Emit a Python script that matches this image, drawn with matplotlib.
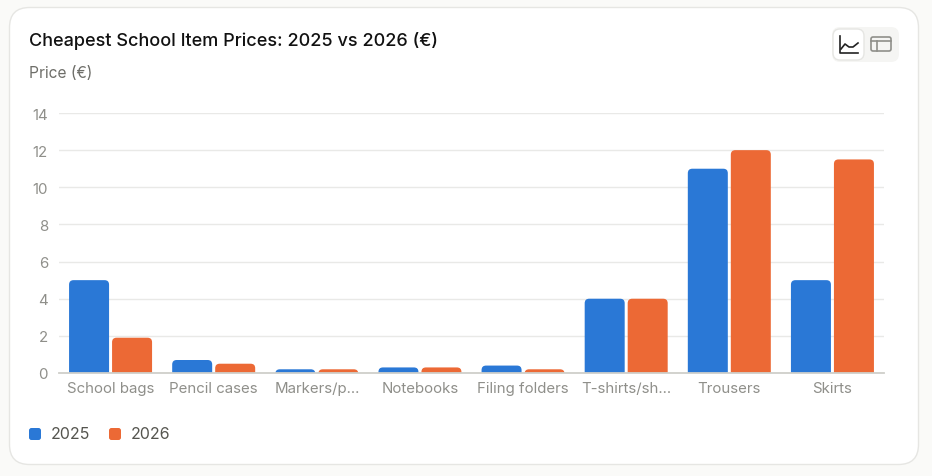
import matplotlib.pyplot as plt
from matplotlib.patches import FancyBboxPatch
import numpy as np

plt.rcParams['font.family'] = ['Inter', 'DejaVu Sans']

categories = ['School bags', 'Pencil cases', 'Markers/p...', 'Notebooks', 'Filing folders',
              'T-shirts/sh...', 'Trousers', 'Skirts']
prices_2025 = [5, 0.7, 0.2, 0.3, 0.4, 4, 11, 5]
prices_2026 = [1.9, 0.5, 0.2, 0.3, 0.2, 4, 12, 11.5]
y_ticks = [0, 2, 4, 6, 8, 10, 12, 14]
series_names = ['2025', '2026']

BLUE = '#2a78d6'
ORANGE = '#ec6935'
W, H = 932, 477

fig = plt.figure(figsize=(W / 100, H / 100), dpi=100, facecolor='#fafaf8')

# overlay in pixel coords for card, title, legend, icons
bg = fig.add_axes([0, 0, 1, 1], zorder=0)
bg.set_xlim(0, W)
bg.set_ylim(H - 1, -1)
bg.axis('off')


def rounded(ax, x0, y0, x1, y1, r, **kw):
    p = FancyBboxPatch((x0, y0), x1 - x0, y1 - y0, boxstyle=f'round,pad=0,rounding_size={r}', **kw)
    ax.add_patch(p)
    return p


rounded(bg, 9.5, 7.5, 918.5, 464.5, 20, fc='white', ec='#e6e6e3', lw=1)
bg.text(29, 40, 'Cheapest School Item Prices: 2025 vs 2026 (€)', fontsize=13.0, fontweight='medium',
        color='#111111', va='center', ha='left')
bg.text(29, 73, 'Price (€)', fontsize=11.2, color='#6e6e69', va='center', ha='left')

# toggle buttons
rounded(bg, 832, 27, 899, 62, 8, fc='#f5f5f3', ec='none')
rounded(bg, 833, 29, 864, 60, 7, fc='white', ec='#e6e6e3', lw=1)
bg.plot([840, 840, 858], [36, 53, 53], color='#222222', lw=1.2)
bg.plot([841, 845, 849, 853, 858], [49, 44, 47, 47, 43], color='#222222', lw=1.2)
rounded(bg, 871, 37, 891, 51, 2, fc='none', ec='#8f8f8a', lw=1.2)
bg.plot([871, 891], [41.5, 41.5], color='#8f8f8a', lw=1.2)
bg.plot([877, 877], [41.5, 51], color='#8f8f8a', lw=1.2)

# legend
for x_sq, x_txt, name, col in zip([29, 109], [51, 131], series_names, [BLUE, ORANGE]):
    rounded(bg, x_sq, 428, x_sq + 12, 440, 2.5, fc=col, ec='none')
    bg.text(x_txt, 433.5, name, fontsize=11.5, color='#55554f', va='center', ha='left')

# chart
ax = fig.add_axes([59 / W, 1 - 374 / H, 825 / W, 260 / H], zorder=1)
ax.patch.set_alpha(0)
ax.set_xlim(-0.5, len(categories) - 0.5)
ax.set_ylim(0, 14)
ax.set_yticks(y_ticks)
ax.set_xticks(range(len(categories)))
ax.set_xticklabels(categories)
ax.tick_params(axis='both', length=0, labelsize=10.8, labelcolor='#8f8f8a')
ax.tick_params(axis='x', pad=5.5)
ax.tick_params(axis='y', pad=8)
for s in ax.spines.values():
    s.set_visible(False)
ax.grid(axis='y', color='#e9e9e7', lw=1)
ax.set_axisbelow(True)

# px size of one data unit, so the corners come out round
ux = 825 / len(categories)
uy = 260 / 14
bw = 40 / ux
off = 21.5 / ux
rad = 4.5 / ux
aspect = ux / uy

x = np.arange(len(categories))
for xs, vals, col in [(x - off, prices_2025, BLUE), (x + off, prices_2026, ORANGE)]:
    for xi, v in zip(xs, vals):
        # start below zero so the bottom corners get clipped off
        p = FancyBboxPatch((xi - bw / 2, -1), bw, v + 1, boxstyle=f'round,pad=0,rounding_size={rad}',
                           mutation_aspect=aspect, fc=col, ec='none', zorder=3)
        ax.add_patch(p)

ax.axhline(0, color='#cfcfca', lw=1.3, zorder=4, clip_on=False)

plt.savefig('out.png', dpi=100, facecolor=fig.get_facecolor())
